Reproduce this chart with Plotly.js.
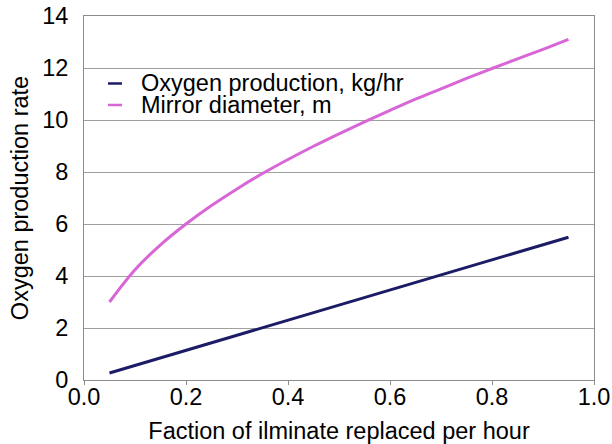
<!DOCTYPE html>
<html>
<head>
<meta charset="utf-8">
<script src="https://cdn.plot.ly/plotly-3.0.1.min.js"></script>
<style>html,body{margin:0;padding:0;background:#fff;}#chart{width:612px;height:444px;}</style>
</head>
<body>
<div id="chart"></div>
<script>
const fraction = [0.05, 0.10, 0.15, 0.20, 0.25, 0.30, 0.35, 0.40, 0.45, 0.50, 0.55, 0.60, 0.65, 0.70, 0.75, 0.80, 0.85, 0.90, 0.95];
const oxygenProduction = [0.27, 0.56, 0.85, 1.14, 1.43, 1.72, 2.01, 2.30, 2.59, 2.88, 3.17, 3.46, 3.75, 4.04, 4.33, 4.62, 4.91, 5.20, 5.49];
const mirrorDiameter = [3.0, 4.24, 5.2, 6.0, 6.71, 7.35, 7.94, 8.48, 8.99, 9.47, 9.93, 10.37, 10.8, 11.2, 11.6, 11.98, 12.35, 12.72, 13.1];
const seriesNames = ["Oxygen production, kg/hr", "Mirror diameter, m"];
const seriesColors = ["#1c1c66", "#d866d6"];
const xTicks = [0, 0.2, 0.4, 0.6, 0.8, 1.0];
const xTickLabels = ["0.0", "0.2", "0.4", "0.6", "0.8", "1.0"];
const yTicks = [0, 2, 4, 6, 8, 10, 12, 14];

const font = "Liberation Sans, Arial, sans-serif";
const fs = 23.5;
const traces = [
  {x: fraction, y: oxygenProduction, name: seriesNames[0], mode: "lines", type: "scatter",
   line: {color: seriesColors[0], width: 3}},
  {x: fraction, y: mirrorDiameter, name: seriesNames[1], mode: "lines", type: "scatter",
   line: {color: seriesColors[1], width: 3, shape: "spline"}}
];

// custom legend (compact row spacing like the reference)
const legendRowsY = [0.8146, 0.7555];
const shapes = seriesNames.map((n, i) => ({
  type: "line", xref: "paper", yref: "paper",
  x0: 0.047, x1: 0.0745, y0: legendRowsY[i], y1: legendRowsY[i],
  line: {color: seriesColors[i], width: 2.5}
}));
const annotations = seriesNames.map((n, i) => ({
  text: n, xref: "paper", yref: "paper", x: 0.108, y: legendRowsY[i],
  xanchor: "left", yanchor: "middle", showarrow: false,
  font: {family: font, size: fs, color: "#000"}
}));

const layout = {
  width: 612, height: 444,
  margin: {l: 84, r: 18, t: 16, b: 64},
  paper_bgcolor: "#fff", plot_bgcolor: "#fff",
  font: {family: font, color: "#000"},
  showlegend: false,
  shapes: shapes,
  annotations: annotations,
  xaxis: {
    range: [0, 1], tickvals: xTicks, ticktext: xTickLabels,
    showgrid: false, zeroline: false, showline: true, linecolor: "#8c8c8c", linewidth: 1, mirror: true,
    ticks: "outside", ticklen: 4, tickcolor: "#8c8c8c", ticklabelstandoff: -8,
    tickfont: {family: font, size: fs, color: "#000"},
    title: {text: "Faction of ilminate replaced per hour", font: {family: font, size: fs, color: "#000"}, standoff: 14}
  },
  yaxis: {
    range: [0, 14], tickvals: yTicks,
    showgrid: true, gridcolor: "#a0a0a0", gridwidth: 1, zeroline: false,
    showline: true, linecolor: "#8c8c8c", linewidth: 1, mirror: true,
    ticks: "", ticklabelstandoff: 10, tickfont: {family: font, size: fs, color: "#000"},
    title: {text: "Oxygen production rate", font: {family: font, size: fs, color: "#000"}, standoff: 6}
  }
};
Plotly.newPlot("chart", traces, layout, {displayModeBar: false, staticPlot: true});
</script>
</body>
</html>
